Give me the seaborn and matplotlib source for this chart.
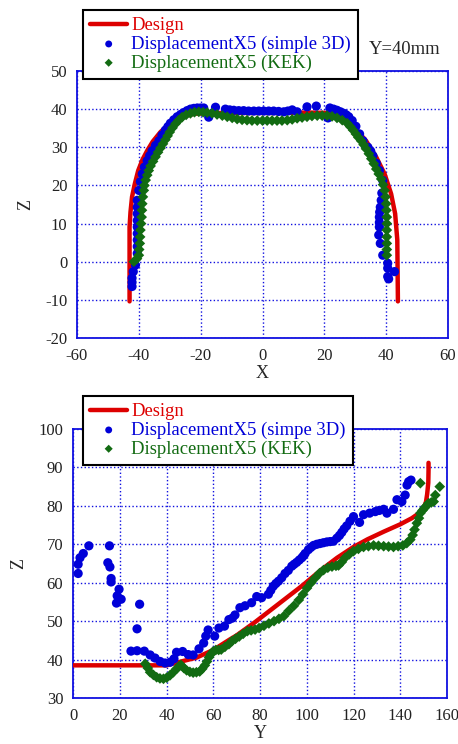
import numpy as np
import pandas as pd
import seaborn as sns
from matplotlib import pyplot as plt

sns.set_style('white')
plt.rcParams['font.family'] = ['Liberation Serif', 'DejaVu Serif']
plt.rcParams['axes.unicode_minus'] = False

# ---- top panel (Y=40mm section) ----
top_design_x = [-43.0, -43.0, -42.7, -42.2, -41.3, -40.2, -38.8, -37.3, -35.5, -33.0, -30.0, -26.5, -22.0,
                -15.0, -5.0, 5.0, 15.0, 22.0, 25.0, 28.5, 31.0, 33.5, 36.8, 39.5, 41.6, 42.9, 43.6, 43.8]
top_design_z = [-10.4, 9.1, 13.0, 17.0, 20.4, 23.9, 26.8, 29.1, 31.5, 34.0, 36.3, 38.0, 38.8,
                39.0, 39.0, 39.0, 39.1, 39.0, 38.5, 36.5, 34.0, 31.7, 27.4, 23.0, 17.8, 12.6, 5.7, -10.4]

top_s3d_x = [-42.2, -42.2, -42.2, -41.8, -41.1, -40.5, -40.5, -40.5, -40.5, -40.5, -40.5, -40.5, -40.5, -40.5,
             -40.0, -39.5, -38.9, -38.2, -37.3, -36.5, -35.7, -34.6, -33.5, -32.5, -31.4, -30.6, -29.8, -28.7,
             -27.6, -26.5, -25.5, -24.4, -23.3, -22.2, -21.1, -20.0, -19.0, -17.4, -15.2, -12.0, -10.6, -9.3,
             -7.7, -6.1, -4.5, -2.8, -1.2, 0.4, 2.0, 3.6, 5.2, 6.9, 8.2, 9.6, 11.2, 14.4, 17.4, 21.2, 21.8,
             23.0, 24.1, 25.2, 26.3, 27.1, 27.9, 29.0, 30.2, 31.4, 32.5, 34.1, 35.0, 35.7, 36.8, 37.8, 38.9,
             38.6, 38.4, 38.1, 37.9, 37.8, 37.8, 37.8, 37.6, 38.1, 38.9, 40.5, 40.5, 42.7, 40.5, 40.8]
top_s3d_z = [-6.5, -5.4, -4.3, -2.6, -0.9, 2.2, 4.0, 5.7, 7.4, 9.1, 10.8, 12.6, 14.3, 16.1,
             18.7, 21.0, 23.0, 24.8, 26.5, 27.8, 29.1, 30.5, 31.7, 33.2, 34.5, 35.4, 36.3, 37.2,
             38.0, 38.6, 39.1, 39.6, 40.0, 40.2, 40.3, 40.3, 40.3, 37.9, 40.5, 40.0, 39.8, 39.7,
             39.6, 39.6, 39.5, 39.5, 39.5, 39.5, 39.5, 39.5, 39.4, 39.3, 39.5, 39.8, 39.3, 40.6, 40.8, 37.7, 40.3,
             40.0, 39.7, 39.3, 38.9, 38.5, 38.0, 37.0, 35.5, 33.5, 31.7, 30.0, 29.0, 27.8, 25.8, 23.9, 21.3,
             18.0, 16.1, 14.3, 13.0, 11.7, 10.3, 9.1, 7.0, 4.8, 1.7, -0.4, -1.7, -2.6, -3.9, -4.5]

top_kek_x = [-41.6, -40.6, -40.0, -39.9, -39.7, -39.6, -39.5, -39.3, -39.1, -39.0, -38.9, -38.7, -38.4, -38.2,
             -37.8, -37.3, -36.8, -36.2, -35.4, -34.6, -33.8, -33.0, -32.2, -31.4, -30.7, -30.0, -29.1, -28.1,
             -27.1, -26.0, -24.7, -23.3, -22.0, -20.6, -19.2, -17.9, -16.3, -14.7, -13.0, -11.4, -9.8, -8.2,
             -6.6, -5.0, -3.4, -1.7, 0.0, 1.5, 3.1, 4.7, 6.3, 8.0, 9.6, 11.2, 12.8, 14.4, 16.0, 17.7, 19.3,
             20.9, 22.5, 24.1, 25.8, 27.4, 28.4, 29.3, 30.2, 31.0, 31.9, 32.7, 33.5, 34.4, 35.2, 36.0, 36.8,
             37.6, 38.4, 39.0, 39.5, 39.8, 40.0, 40.1, 40.2, 40.2, 40.2, 40.2, 40.2, 40.2, 40.2]
top_kek_z = [0.0, 0.8, 1.7, 3.2, 4.8, 6.5, 8.3, 10.0, 11.7, 13.5, 15.2, 17.0, 18.7, 20.0,
             21.4, 22.7, 23.9, 25.1, 26.3, 27.5, 28.7, 29.8, 30.9, 32.0, 33.0, 34.0, 35.1, 36.2,
             37.1, 37.9, 38.5, 38.9, 39.2, 39.3, 39.2, 39.1, 38.9, 38.6, 38.3, 38.0, 37.7, 37.4,
             37.2, 37.1, 37.0, 37.0, 37.0, 37.0, 37.0, 37.0, 37.0, 37.1, 37.3, 37.6, 37.8, 38.0, 38.2, 38.3, 38.3,
             38.3, 38.1, 37.7, 37.1, 36.3, 35.4, 34.5, 33.5, 32.6, 31.7, 30.7, 29.6, 28.3, 27.0, 25.7, 24.3,
             23.0, 21.7, 20.2, 18.7, 17.0, 15.2, 13.5, 11.7, 10.0, 8.3, 6.5, 4.8, 3.2, 1.7]

# ---- bottom panel ----
bot_design_y = [0.0, 40.0, 45.0, 52.8, 60.0, 67.0, 70.0, 78.0, 88.0, 98.0, 106.5, 113.0, 120.0, 126.0,
                133.0, 140.0, 145.0, 147.1, 149.0, 150.0, 151.0, 151.5, 152.0, 152.1, 152.1]
bot_design_z = [38.5, 38.5, 39.3, 40.5, 42.5, 45.2, 46.3, 49.8, 54.5, 59.2, 63.5, 66.5, 69.3, 71.3,
                73.3, 75.2, 76.8, 77.7, 78.6, 79.5, 81.0, 83.0, 86.0, 89.3, 91.2]

bot_s3d_y = [2.2, 2.2, 3.0, 4.4, 6.8, 15.6, 14.9, 15.8, 16.3, 16.3, 19.7, 18.9, 20.6, 18.6, 28.5, 27.4,
             24.8, 27.4, 30.5, 33.0, 35.1, 37.3, 39.4, 41.5, 43.2, 44.3, 46.9, 49.3, 51.4, 53.9, 55.9, 56.8,
             57.8, 60.6, 62.4, 64.8, 66.7, 68.2, 69.3, 71.4, 73.6, 76.4, 78.6, 80.7, 83.6, 84.6, 85.7, 86.8,
             87.9, 89.3, 90.7, 92.1, 93.6, 94.6, 95.7, 96.8, 97.9, 98.6, 99.3, 100.7, 101.8, 102.9, 104.3,
             105.7, 107.1, 108.6, 110.0, 111.4, 112.9, 114.0, 115.0, 116.0, 117.1, 118.5, 120.0, 122.6,
             124.3, 126.9, 129.3, 131.0, 132.9, 134.3, 137.1, 138.6, 140.7, 142.1, 142.9, 143.6, 144.6]
bot_s3d_z = [62.4, 64.8, 66.5, 67.6, 69.6, 69.6, 65.2, 64.1, 61.1, 60.2, 58.3, 56.6, 55.7, 54.7, 54.4, 48.0,
             42.2, 42.3, 42.2, 41.2, 40.4, 39.5, 39.1, 39.3, 40.2, 41.9, 42.1, 41.3, 41.2, 42.8, 44.3, 46.1,
             47.7, 46.1, 48.2, 48.7, 50.4, 50.8, 51.6, 53.5, 54.0, 54.8, 56.4, 56.1, 57.0, 58.0, 59.1, 59.8,
             60.4, 61.3, 62.4, 63.2, 64.3, 64.8, 65.3, 65.9, 66.5, 67.0, 67.6, 68.6, 69.2, 69.7, 70.0,
             70.2, 70.4, 70.6, 70.7, 70.8, 71.6, 72.3, 73.1, 74.0, 74.8, 76.0, 77.2, 75.7,
             77.7, 78.1, 78.5, 78.8, 79.1, 78.1, 79.1, 81.6, 81.1, 82.8, 85.4, 86.3, 86.7]

bot_kek_y = [30.9, 32.0, 33.0, 34.4, 35.8, 37.2, 38.7, 40.1, 41.5, 42.9, 44.3, 45.3, 46.2, 47.4, 48.6, 50.0,
             51.4, 52.8, 54.2, 55.3, 56.4, 57.3, 58.2, 59.0, 59.9, 61.1, 62.3, 63.4, 65.0, 66.7, 68.0, 69.5,
             71.1, 72.8, 74.6, 76.2, 77.9, 79.6, 81.7, 83.8, 86.0, 88.1, 90.2, 92.3, 94.5, 96.6, 98.4, 100.1,
             101.9, 103.7, 105.5, 107.2, 109.0, 110.8, 112.5, 113.6, 115.0, 116.4, 118.2, 120.0, 122.1, 124.3,
             126.4, 128.6, 130.7, 132.9, 135.0, 137.1, 139.1, 141.1, 142.8, 144.3, 145.3, 146.1, 147.1, 148.0,
             148.6, 149.5, 150.3, 151.2, 152.1, 153.3, 154.3, 155.0, 148.6, 156.9]
bot_kek_z = [38.9, 37.8, 36.7, 36.0, 35.4, 35.1, 35.0, 35.3, 35.9, 36.7, 37.6, 38.2, 38.6, 37.8, 37.2, 36.8,
             36.6, 36.7, 36.9, 37.6, 38.5, 39.5, 40.6, 41.4, 42.1, 42.5, 42.5, 42.6, 43.3, 44.0, 44.8, 45.4,
             46.0, 46.7, 47.4, 47.6, 47.8, 48.2, 48.8, 49.4, 50.0, 50.6, 51.3, 52.7, 54.0, 55.5, 57.0, 58.6,
             60.0, 61.3, 62.5, 63.3, 63.9, 64.2, 64.4, 64.5, 65.4, 66.5, 67.4, 68.2, 68.8, 69.3,
             69.5, 69.7, 69.6, 69.5, 69.4, 69.3, 69.5, 69.7, 70.3, 71.2, 72.4, 73.8, 75.5, 76.8,
             78.1, 78.8, 79.4, 80.0, 80.7, 80.9, 81.1, 82.8, 85.9, 85.0]

RED = '#dd0000'
BLUE = '#0000d8'
GREEN = '#126b12'
GRIDC = '#1010e0'

fig = plt.figure(figsize=(4.58, 7.44), dpi=100)
ax1 = fig.add_axes([77/458, 1-338/744, 371/458, 267/744])
ax2 = fig.add_axes([73/458, 1-698/744, 374/458, 269/744])


def draw(ax, dx, dz, sx, sz, kx, kz, s3d_label):
    sns.lineplot(x=dx, y=dz, sort=False, estimator=None, color=RED, lw=3.2, ax=ax, label='Design', zorder=3)
    sns.scatterplot(x=sx, y=sz, marker='o', s=44, color=BLUE, edgecolor='none', linewidth=0,
                    ax=ax, label=s3d_label, zorder=4)
    sns.scatterplot(x=kx, y=kz, marker='D', s=30, color=GREEN, edgecolor='none', linewidth=0,
                    ax=ax, label='DisplacementX5 (KEK)', zorder=5)
    ax.grid(True, ls=':', lw=1.0, color=GRIDC)
    for sp in ax.spines.values():
        sp.set_color(GRIDC)
        sp.set_linewidth(1.3)
    ax.tick_params(length=0, labelsize=12, pad=7, colors='#222222')


draw(ax1, top_design_x, top_design_z, top_s3d_x, top_s3d_z, top_kek_x, top_kek_z,
     'DisplacementX5 (simple 3D)')
ax1.set(xlim=(-60, 60), ylim=(-20, 50), xticks=np.arange(-60, 61, 20), yticks=np.arange(-20, 51, 10))
ax1.set_xlabel('X', fontsize=13, labelpad=1)
ax1.set_ylabel('Z', fontsize=13, labelpad=8)

draw(ax2, bot_design_y, bot_design_z, bot_s3d_y, bot_s3d_z, bot_kek_y, bot_kek_z,
     'DisplacementX5 (simpe 3D)')
ax2.set(xlim=(0, 160), ylim=(30, 100), xticks=np.arange(0, 161, 20), yticks=np.arange(30, 101, 10))
ax2.set_xlabel('Y', fontsize=13, labelpad=1)
ax2.set_ylabel('Z', fontsize=13, labelpad=8)

for ax, anchor in [(ax1, (83/458, 1-10/744)), (ax2, (83/458, 1-396/744))]:
    leg = ax.legend(loc='upper left', bbox_to_anchor=anchor, bbox_transform=fig.transFigure,
                    fontsize=13.4, frameon=True, fancybox=False, framealpha=1, edgecolor='black',
                    borderpad=0.38, labelspacing=0.08, handlelength=2.0, handletextpad=0.2,
                    borderaxespad=0, markerscale=0.75)
    leg.get_frame().set_linewidth(1.5)
    leg.set_zorder(10)
    for txt, c in zip(leg.get_texts(), [RED, BLUE, GREEN]):
        txt.set_color(c)

fig.text(405/458, 1-50/744, 'Y=40mm', fontsize=13.4, ha='center', va='center')

fig.savefig('out.png', dpi=100)
